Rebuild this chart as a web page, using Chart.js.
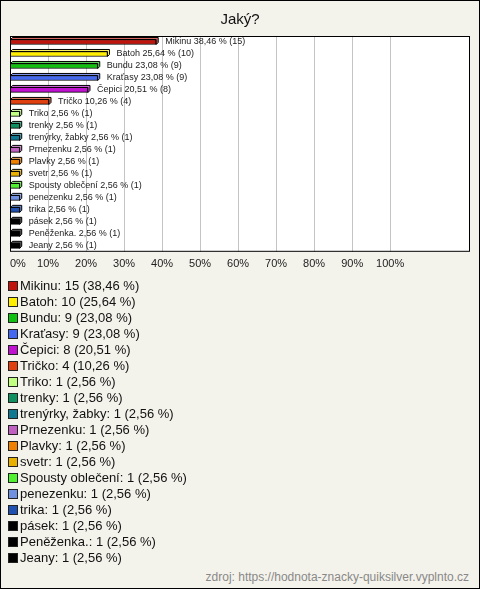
<!DOCTYPE html>
<html lang="cs">
<head>
    <meta charset="UTF-8">
    <script src="https://cdn.jsdelivr.net/npm/chart.js@4/dist/chart.umd.min.js"></script>
    <title>Jaký?</title>
    <style>
        body { margin: 0; background: #fff; }
        .box {
            position: relative; width: 480px; height: 589px; box-sizing: border-box;
            border: 1px solid #000; background: #f4f3eb; font-family: "Liberation Sans", Arial, sans-serif;
        }
        #chart { position: absolute; left: 0; top: 0; }
        #legend { position: absolute; left: 7px; top: 277px; font-size: 13px; color: #111; }
        #legend div { height: 16px; line-height: 16px; white-space: nowrap; }
        #legend span {
            display: inline-block; width: 8px; height: 8px; border: 1px solid #222;
            margin-right: 2px; vertical-align: -1px;
        }
        .zdroj { position: absolute; right: 10px; top: 569px; font-size: 12px; color: #888; }
    </style>
</head>
<body>
    <div class="box">
        <canvas id="chart" width="478" height="280"></canvas>
        <div id="legend"></div>
        <div class="zdroj">zdroj: https://hodnota-znacky-quiksilver.vyplnto.cz</div>
    </div>

    <script>
        const labels = ["Mikinu", "Batoh", "Bundu", "Kraťasy", "Čepici", "Tričko", "Triko", "trenky",
            "trenýrky, žabky", "Prnezenku", "Plavky", "svetr", "Spousty oblečení", "penezenku", "trika",
            "pásek", "Peněženka.", "Jeany"];
        const counts = [15, 10, 9, 9, 8, 4, 1, 1, 1, 1, 1, 1, 1, 1, 1, 1, 1, 1];
        const percents = [38.46, 25.64, 23.08, 23.08, 20.51, 10.26, 2.56, 2.56, 2.56, 2.56, 2.56, 2.56,
            2.56, 2.56, 2.56, 2.56, 2.56, 2.56];
        const colors = ["#c0140c", "#ffee00", "#10c010", "#4468f0", "#c010d0", "#e04010", "#c0ff80", "#109060",
            "#107890", "#c060c0", "#f08000", "#e8b000", "#50f030", "#7090e0", "#2050b0", "#000000", "#000000", "#000000"];

        function fmt(v) {
            return v.toFixed(2).replace(".", ",");
        }

        function lighter(hex) {
            const n = parseInt(hex.slice(1), 16);
            const r = (n >> 16) & 255, g = (n >> 8) & 255, b = n & 255;
            const f = c => Math.round(c + (255 - c) * 0.35);
            return "rgb(" + f(r) + "," + f(g) + "," + f(b) + ")";
        }

        // white plot area with black frame
        const frame = {
            id: "frame",
            beforeDraw(chart) {
                const a = chart.chartArea, ctx = chart.ctx;
                ctx.save();
                ctx.fillStyle = "#fff";
                ctx.fillRect(a.left, a.top, a.right - a.left, a.bottom - a.top);
                ctx.restore();
            },
            afterDraw(chart) {
                const a = chart.chartArea, ctx = chart.ctx;
                ctx.save();
                ctx.strokeStyle = "#000";
                ctx.lineWidth = 1;
                ctx.strokeRect(a.left + 0.5, a.top + 0.5, a.right - a.left - 1, a.bottom - a.top - 1);
                ctx.restore();
            }
        };

        // 3d faces + labels beside the bars
        const bars3d = {
            id: "bars3d",
            afterDatasetsDraw(chart) {
                const ctx = chart.ctx;
                const d = 2;
                chart.getDatasetMeta(0).data.forEach((bar, i) => {
                    const top = bar.y - bar.height / 2, bottom = bar.y + bar.height / 2;
                    ctx.save();
                    ctx.lineWidth = 1;
                    ctx.strokeStyle = "#000";
                    ctx.fillStyle = lighter(colors[i]);
                    ctx.beginPath();
                    ctx.moveTo(bar.base, top);
                    ctx.lineTo(bar.base + d, top - d);
                    ctx.lineTo(bar.x + d, top - d);
                    ctx.lineTo(bar.x + d, bottom - d);
                    ctx.lineTo(bar.x, bottom);
                    ctx.lineTo(bar.x, top);
                    ctx.closePath();
                    ctx.fill();
                    ctx.stroke();
                    ctx.fillStyle = "#222";
                    ctx.font = "9px 'Liberation Sans', Arial";
                    ctx.textBaseline = "middle";
                    ctx.fillText(labels[i] + " " + fmt(percents[i]) + " % (" + counts[i] + ")", bar.x + 9, bar.y);
                    ctx.restore();
                });
            }
        };

        new Chart("chart", {
            type: "bar",
            data: {
                labels: labels,
                datasets: [{
                    data: percents,
                    backgroundColor: colors,
                    borderColor: "#000",
                    borderWidth: 1,
                    barThickness: 5
                }]
            },
            options: {
                indexAxis: "y",
                responsive: false,
                animation: false,
                layout: { padding: { left: 9, right: 9, bottom: 4 } },
                plugins: {
                    legend: { display: false },
                    tooltip: { enabled: false },
                    title: {
                        display: true,
                        text: "Jaký?",
                        color: "#111",
                        font: { family: "'Liberation Sans', Arial", size: 15, weight: "normal" },
                        padding: { top: 10, bottom: 7 }
                    }
                },
                scales: {
                    x: {
                        min: 0,
                        max: 121,
                        border: { display: false },
                        grid: {
                            drawTicks: false,
                            color: c => (c.tick && c.tick.value > 0 && c.tick.value <= 100) ? "#c4c4c4" : "transparent"
                        },
                        ticks: {
                            stepSize: 10,
                            padding: 6,
                            align: "inner",
                            color: "#222",
                            font: { family: "'Liberation Sans', Arial", size: 11 },
                            callback: v => v <= 100 ? v + "%" : ""
                        }
                    },
                    y: { display: false }
                }
            },
            plugins: [frame, bars3d]
        });

        const legend = document.getElementById("legend");
        labels.forEach((name, i) => {
            const row = document.createElement("div");
            row.innerHTML = '<span style="background:' + colors[i] + '"></span>' +
                name + ": " + counts[i] + " (" + fmt(percents[i]) + " %)";
            legend.appendChild(row);
        });
    </script>
</body>
</html>
